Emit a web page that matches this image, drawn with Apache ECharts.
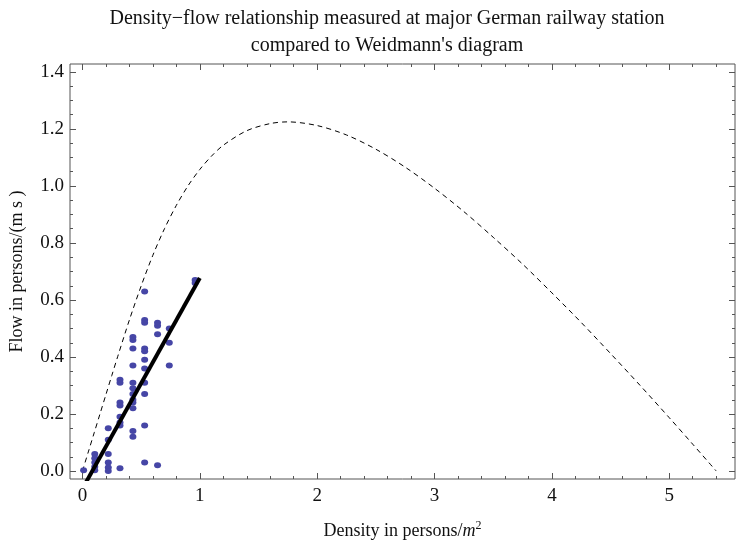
<!DOCTYPE html>
<html>
<head>
<meta charset="utf-8">
<script src="https://cdn.jsdelivr.net/npm/echarts@6/dist/echarts.min.js"></script>
<style>
  html, body { margin: 0; padding: 0; background: #fff; }
  #chart { width: 736px; height: 546px; }
</style>
</head>
<body>
<div id="chart"></div>
<script>
// measured points (density, flow)
var density = [0.01,
    0.105, 0.105, 0.105, 0.105, 0.105,
    0.22, 0.22, 0.22, 0.22, 0.22, 0.22,
    0.32, 0.32, 0.32, 0.32, 0.32, 0.32, 0.32, 0.32,
    0.43, 0.43, 0.43, 0.43, 0.43, 0.43, 0.43, 0.43, 0.43, 0.43, 0.43, 0.43,
    0.53, 0.53, 0.53, 0.53, 0.53, 0.53, 0.53, 0.53, 0.53, 0.53, 0.53,
    0.64, 0.64, 0.64, 0.64,
    0.74, 0.74, 0.74,
    0.96, 0.96];
var flow = [0.003,
    0.06, 0.045, 0.03, 0.015, 0.003,
    0.15, 0.11, 0.06, 0.03, 0.012, 0.0,
    0.32, 0.31, 0.24, 0.23, 0.19, 0.17, 0.16, 0.01,
    0.47, 0.46, 0.43, 0.37, 0.31, 0.29, 0.27, 0.25, 0.24, 0.22, 0.14, 0.12,
    0.63, 0.53, 0.52, 0.43, 0.42, 0.39, 0.36, 0.31, 0.27, 0.16, 0.03,
    0.52, 0.51, 0.48, 0.02,
    0.50, 0.45, 0.37,
    0.67, 0.66];

// linear fit line (solid)
var fitDensity = [0.0, 1.0];
var fitFlow = [-0.062, 0.677];

// Weidmann's diagram (dashed)
var weidDensity = [0.0, 0.05, 0.1, 0.15, 0.2, 0.25, 0.3, 0.4, 0.5, 0.6, 0.7, 0.8, 0.9, 1.0, 1.1, 1.2, 1.4, 1.6, 1.75,
    2.0, 2.25, 2.5, 2.75, 3.0, 3.25, 3.5, 3.75, 4.0, 4.25, 4.5, 4.75, 5.0, 5.2, 5.4];
var weidFlow = [0.0, 0.067, 0.134, 0.201, 0.268, 0.335, 0.401, 0.530, 0.649, 0.757, 0.851, 0.932, 1.001, 1.058, 1.105, 1.143, 1.194, 1.219, 1.225,
    1.212, 1.179, 1.129, 1.066, 0.992, 0.910, 0.820, 0.726, 0.625, 0.521, 0.412, 0.301, 0.187, 0.094, 0.0];

// tick positions
var xMajor = [0, 1, 2, 3, 4, 5];
var xMinor = [0.2, 0.4, 0.6, 0.8, 1.2, 1.4, 1.6, 1.8, 2.2, 2.4, 2.6, 2.8, 3.2, 3.4, 3.6, 3.8, 4.2, 4.4, 4.6, 4.8, 5.2, 5.4];
var yMajor = [0, 0.2, 0.4, 0.6, 0.8, 1.0, 1.2, 1.4];
var yMinor = [0.05, 0.1, 0.15, 0.25, 0.3, 0.35, 0.45, 0.5, 0.55, 0.65, 0.7, 0.75, 0.85, 0.9, 0.95, 1.05, 1.1, 1.15, 1.25, 1.3, 1.35];

var X_MIN = -0.106, X_MAX = 5.56;
var Y_MIN = -0.028, Y_MAX = 1.428;
var FONT = '"Liberation Serif", "Times New Roman", serif';

function zip(a, b) {
    var out = [];
    for (var i = 0; i < a.length; i++) out.push([a[i], b[i]]);
    return out;
}

function xAxisDef(pos, ticks, len, labels, name) {
    return {
        type: 'value', position: pos, min: X_MIN, max: X_MAX,
        axisLine: { show: false, onZero: false },
        splitLine: { show: false },
        axisTick: { show: true, inside: true, length: len, customValues: ticks, lineStyle: { color: '#555', width: 1 } },
        axisLabel: labels ? {
            show: true, customValues: xMajor, color: '#111', fontFamily: FONT, fontSize: 19, margin: 8
        } : { show: false },
        name: name || '',
        nameLocation: 'middle',
        nameGap: 41,
        nameTextStyle: {
            fontFamily: FONT, fontSize: 18, color: '#111',
            rich: {
                a: { fontFamily: FONT, fontSize: 18, color: '#111' },
                i: { fontFamily: FONT, fontSize: 18, fontStyle: 'italic', color: '#111' },
                s: { fontFamily: FONT, fontSize: 12, color: '#111', padding: [0, 0, 10, 0] }
            }
        }
    };
}

function yAxisDef(pos, ticks, len, labels, name) {
    return {
        type: 'value', position: pos, min: Y_MIN, max: Y_MAX,
        axisLine: { show: false, onZero: false },
        splitLine: { show: false },
        axisTick: { show: true, inside: true, length: len, customValues: ticks, lineStyle: { color: '#555', width: 1 } },
        axisLabel: labels ? {
            show: true, customValues: yMajor, color: '#111', fontFamily: FONT, fontSize: 19, margin: 6,
            formatter: function (v) { return v.toFixed(1); }
        } : { show: false },
        name: name || '',
        nameLocation: 'middle',
        nameGap: 44,
        nameRotate: 90,
        nameTextStyle: { fontFamily: FONT, fontSize: 18, color: '#111' }
    };
}

var chart = echarts.init(document.getElementById('chart'));

var option = {
    animation: false,
    backgroundColor: '#fff',
    title: {
        text: 'Density\u2212flow relationship measured at major German railway station\ncompared to Weidmann\'s diagram',
        left: 382, textAlign: 'center', top: 0,
        textStyle: { fontFamily: FONT, fontSize: 20, fontWeight: 'normal', color: '#111', lineHeight: 27 }
    },
    grid: {
        left: 69, right: 1, top: 64, bottom: 67,
        show: true, borderColor: '#555', borderWidth: 1, backgroundColor: 'transparent'
    },
    xAxis: [
        xAxisDef('bottom', xMajor, 6, true, '{a|Density in persons/}{i|m}{s|2}'),
        xAxisDef('bottom', xMinor, 3, false),
        xAxisDef('top', xMajor, 6, false),
        xAxisDef('top', xMinor, 3, false)
    ],
    yAxis: [
        yAxisDef('left', yMajor, 6, true, 'Flow in persons/(m s )'),
        yAxisDef('left', yMinor, 3, false),
        yAxisDef('right', yMajor, 6, false),
        yAxisDef('right', yMinor, 3, false)
    ],
    series: [
        {
            name: 'Weidmann',
            type: 'line',
            data: zip(weidDensity, weidFlow),
            showSymbol: false,
            smooth: 0.3,
            clip: true,
            lineStyle: { color: '#000', width: 1, type: [5, 4] },
            z: 2
        },
        {
            name: 'measured',
            type: 'scatter',
            data: zip(density, flow),
            symbol: 'circle',
            symbolSize: [7, 6],
            itemStyle: { color: '#4646a6', opacity: 1 },
            z: 3
        },
        {
            name: 'fit',
            type: 'line',
            data: zip(fitDensity, fitFlow),
            showSymbol: false,
            clip: true,
            lineStyle: { color: '#000', width: 4 },
            z: 4
        }
    ]
};

chart.setOption(option);
</script>
</body>
</html>
